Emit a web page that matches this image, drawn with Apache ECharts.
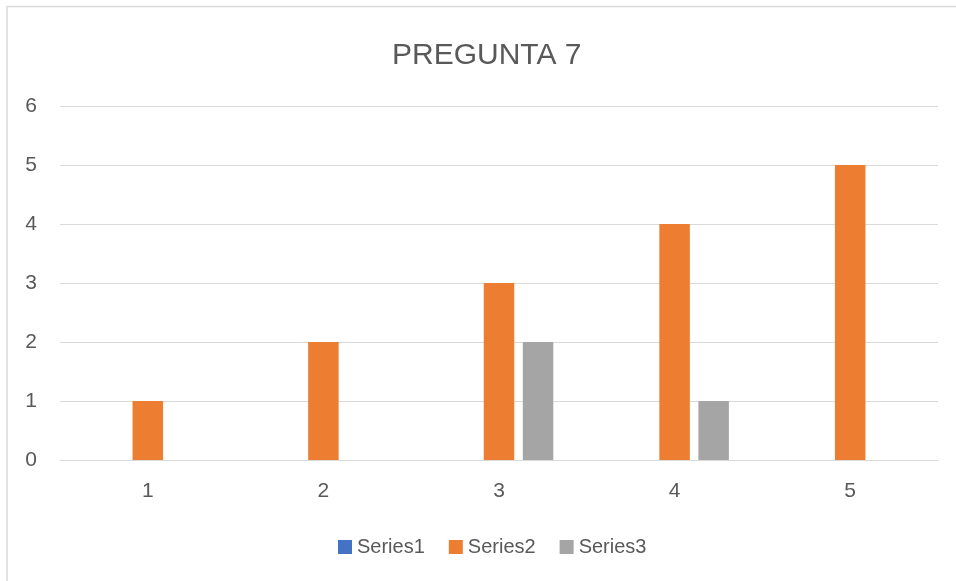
<!DOCTYPE html>
<html>
<head>
<meta charset="utf-8">
<script src="https://cdn.jsdelivr.net/npm/echarts@6/dist/echarts.min.js"></script>
<style>html,body{margin:0;padding:0;background:#fff}#c{width:956px;height:581px}</style>
</head>
<body>
<div id="c"></div>
<script>
const categories = ['1', '2', '3', '4', '5'];
const series1 = [0, 0, 0, 0, 0];
const series2 = [1, 2, 3, 4, 5];
const series3 = [0, 0, 2, 1, 0];
const yTicks = { min: 0, max: 6, interval: 1 };

const font = 'Liberation Sans';
const chart = echarts.init(document.getElementById('c'));
chart.setOption({
  animation: false,
  backgroundColor: '#fff',
  graphic: [{
    type: 'rect', shape: { x: 7, y: 6.5, width: 980, height: 620 },
    style: { fill: 'none', stroke: '#D9D9D9', lineWidth: 1.5 }, silent: true
  }],
  title: {
    text: 'PREGUNTA 7', left: 387, top: 36,
    textStyle: { fontFamily: font, fontSize: 30, fontWeight: 'normal', color: '#595959' }
  },
  legend: {
    top: 532, left: 333, itemWidth: 14, itemHeight: 14, itemGap: 24,
    icon: 'rect',
    textStyle: { fontFamily: font, fontSize: 20, color: '#595959' },
    data: ['Series1', 'Series2', 'Series3']
  },
  grid: { left: 60, right: 18, top: 106, bottom: 121, containLabel: false },
  xAxis: {
    type: 'category', data: categories,
    axisLine: { lineStyle: { color: '#D9D9D9', width: 1 } },
    axisTick: { show: false },
    axisLabel: { fontFamily: font, fontSize: 21, color: '#595959', margin: 21 }
  },
  yAxis: {
    type: 'value', min: yTicks.min, max: yTicks.max, interval: yTicks.interval,
    axisLine: { show: false }, axisTick: { show: false },
    splitLine: { lineStyle: { color: '#D9D9D9', width: 1 } },
    axisLabel: { fontFamily: font, fontSize: 21, color: '#595959', margin: 23 }
  },
  series: [
    { name: 'Series1', type: 'bar', data: series1, itemStyle: { color: '#4472C4' }, barWidth: 30.5, barGap: '28%' },
    { name: 'Series2', type: 'bar', data: series2, itemStyle: { color: '#ED7D31' }, barWidth: 30.5, barGap: '28%' },
    { name: 'Series3', type: 'bar', data: series3, itemStyle: { color: '#A5A5A5' }, barWidth: 30.5, barGap: '28%' }
  ]
});
</script>
</body>
</html>
